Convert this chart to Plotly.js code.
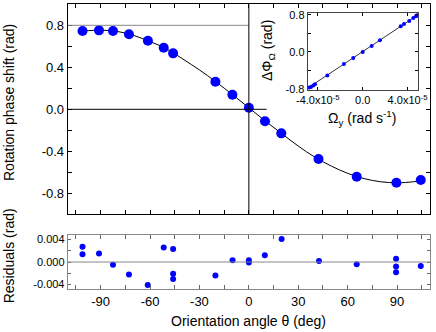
<!DOCTYPE html>
<html><head><meta charset="utf-8">
<script src="https://cdn.plot.ly/plotly-3.0.1.min.js"></script>
<style>html,body{margin:0;padding:0;background:#fff}#c{width:436px;height:332px}</style>
</head><body><div id="c"></div>
<script>
// Main panel: measured rotation phase shift vs orientation angle
const theta = [-101, -91, -82.5, -72.8, -61.3, -51.7, -46, -20.3, -10, 0, 9.8, 19.7, 42.3, 65.5, 89.6, 104.4];
const phase = [0.746, 0.752, 0.746, 0.714, 0.653, 0.587, 0.533, 0.263, 0.139, 0.015, -0.114, -0.229, -0.473, -0.642, -0.699, -0.673];
// Fit curve
const fitTheta = [-101, -90, -80, -70, -60, -50, -40, -30, -20, -10, 0, 10, 20, 30, 40, 50, 60, 70, 80, 90, 100, 105];
const fitPhase = [0.746, 0.753, 0.742, 0.704, 0.645, 0.576, 0.478, 0.375, 0.262, 0.14, 0.015, -0.112, -0.232, -0.35, -0.455, -0.54, -0.61, -0.66, -0.69, -0.70, -0.69, -0.678];
// Residuals panel
const resTheta = [-101, -101, -91, -82.5, -72.8, -61.4, -51.7, -46, -46, -46, -20.3, -9.9, 0, 0, 9.7, 19.9, 42.6, 65.5, 89.4, 89.4, 89.4, 104.4];
const resVal = [0.0027, 0.0014, 0.0015, -0.0005, -0.0022, -0.0041, 0.0026, 0.0023, -0.0021, -0.0030, -0.0024, 0.0003, 0.0003, -0.0001, 0.0012, 0.0041, 0.0002, -0.0004, 0.0006, -0.0008, -0.0018, -0.0007];
// Inset: phase shift vs rotation rate
const omega = [-4.76e-5, -4.61e-5, -4.40e-5, -4.25e-5, -3.15e-5, -1.67e-5, -0.84e-5, 0, 0.80e-5, 1.54e-5, 3.39e-5, 3.68e-5, 4.15e-5, 4.51e-5, 4.75e-5, 4.86e-5];
const dPhi = [-0.766, -0.753, -0.723, -0.695, -0.508, -0.258, -0.129, 0, 0.129, 0.252, 0.553, 0.603, 0.667, 0.732, 0.769, 0.790];
const insetFitOmega = [-4.9e-5, 4.93e-5];
const insetFitPhi = [-0.78, 0.80];
// Tick labels
const mainYTicks = [-0.8, -0.4, 0, 0.4, 0.8];
const mainYLabels = ['-0.8', '-0.4', '0.0', '0.4', '0.8'];
const resXTicks = [-90, -60, -30, 0, 30, 60, 90];
const resXLabels = ['-90', '-60', '-30', '0', '30', '60', '90'];
const resYTicks = [-0.004, 0, 0.004];
const resYLabels = ['-0.004', '0.000', '0.004'];
const insXTicks = [-4e-5, 0, 4e-5];
const insXLabels = ['-4.0x10<sup>-5</sup>', '0.0', '4.0x10<sup>-5</sup>'];
const insYTicks = [-0.8, 0, 0.8];
const insYLabels = ['-0.8', '0.0', '0.8'];

const W = 436, H = 332;
const px = v => v / W, py = v => (H - v) / H;
const FONT = '"Liberation Sans", Arial, sans-serif';

const traces = [
  {x: fitTheta, y: fitPhase, mode: 'lines', line: {color: '#000', width: 1, shape: 'spline'}, xaxis: 'x', yaxis: 'y', hoverinfo: 'skip'},
  {x: theta, y: phase, mode: 'markers', marker: {color: '#0000ff', size: 10}, xaxis: 'x', yaxis: 'y'},
  {x: resTheta, y: resVal, mode: 'markers', marker: {color: '#0000ff', size: 6}, xaxis: 'x2', yaxis: 'y2'},
  {x: insetFitOmega, y: insetFitPhi, mode: 'lines', line: {color: '#000', width: 0.8}, xaxis: 'x3', yaxis: 'y3'},
  {x: omega, y: dPhi, mode: 'markers', marker: {color: '#0000ff', size: 4}, xaxis: 'x3', yaxis: 'y3'}
];

const xDom = [px(67.7), px(430)];
const common = {showgrid: false, zeroline: false, showline: true, ticks: 'inside', mirror: 'ticks', tickcolor: '#000'};

const layout = {
  width: W, height: H, margin: {l: 0, r: 0, t: 0, b: 0},
  paper_bgcolor: '#fff', plot_bgcolor: '#fff', showlegend: false,
  font: {family: FONT, size: 13, color: '#000'},
  xaxis: Object.assign({}, common, {domain: xDom, anchor: 'y', range: [-110, 110], dtick: 15, tick0: 0, ticklen: 4, showticklabels: false, linecolor: '#000', linewidth: 1}),
  yaxis: Object.assign({}, common, {domain: [py(214.3), py(4.3)], anchor: 'x', range: [-1, 1], tickmode: 'array', tickvals: mainYTicks, ticktext: mainYLabels, ticklen: 4, linecolor: '#000', linewidth: 1, tickfont: {size: 13},
    minor: {ticks: 'inside', ticklen: 4, tickmode: 'linear', tick0: 0, dtick: 0.2, tickcolor: '#000'}}),
  xaxis2: Object.assign({}, common, {domain: xDom, anchor: 'y2', range: [-110, 110], tickmode: 'array', tickvals: resXTicks, ticktext: resXLabels, ticklen: 4, linecolor: '#888', tickcolor: '#666', tickfont: {size: 13},
    minor: {ticks: 'inside', ticklen: 4, tickmode: 'linear', tick0: 0, dtick: 15, tickcolor: '#666'}}),
  yaxis2: Object.assign({}, common, {domain: [py(289), py(235)], anchor: 'x2', range: [-0.0048, 0.0048], tickmode: 'array', tickvals: resYTicks, ticktext: resYLabels, ticklen: 3, linecolor: '#888', tickcolor: '#666', tickfont: {size: 11},
    minor: {ticks: 'inside', ticklen: 3, tickmode: 'linear', tick0: 0, dtick: 0.002, tickcolor: '#666'}}),
  xaxis3: Object.assign({}, common, {domain: [px(307.7), px(418)], anchor: 'y3', range: [-4.9e-5, 4.93e-5], tickmode: 'array', tickvals: insXTicks, ticktext: insXLabels, ticklen: 3, linecolor: '#444', tickfont: {size: 11}}),
  yaxis3: Object.assign({}, common, {domain: [py(90), py(12.5)], anchor: 'x3', range: [-0.82, 0.85], tickmode: 'array', tickvals: insYTicks, ticktext: insYLabels, ticklen: 3, linecolor: '#444', tickfont: {size: 11},
    minor: {ticks: 'inside', ticklen: 3, tickmode: 'linear', tick0: 0, dtick: 0.4, tickcolor: '#000'}}),
  shapes: [
    {type: 'line', xref: 'x', yref: 'y', x0: -110, x1: 0, y0: 0.8, y1: 0.8, line: {color: '#888', width: 1}},
    {type: 'line', xref: 'x', yref: 'y', x0: -110, x1: 10.8, y0: 0, y1: 0, line: {color: '#000', width: 1}},
    {type: 'line', xref: 'x', yref: 'y', x0: 0, x1: 0, y0: -1, y1: 1, line: {color: '#000', width: 1}},
    {type: 'line', xref: 'x2', yref: 'y2', x0: -110, x1: 110, y0: 0, y1: 0, line: {color: '#888', width: 1}}
  ],
  annotations: [
    {text: 'Rotation phase shift (rad)', xref: 'paper', yref: 'paper', x: px(9), y: py(103), textangle: -90, showarrow: false, font: {size: 14}, xanchor: 'center', yanchor: 'middle'},
    {text: 'Residuals (rad)', xref: 'paper', yref: 'paper', x: px(9.3), y: py(256), textangle: -90, showarrow: false, font: {size: 14}, xanchor: 'center', yanchor: 'middle'},
    {text: 'Orientation angle θ (deg)', xref: 'paper', yref: 'paper', x: px(249), y: py(321), showarrow: false, font: {size: 14}, xanchor: 'center', yanchor: 'middle'},
    {text: 'ΔΦ<sub>Ω</sub> (rad)', xref: 'paper', yref: 'paper', x: px(268), y: py(51), textangle: -90, showarrow: false, font: {size: 14}, xanchor: 'center', yanchor: 'middle'},
    {text: 'Ω<sub>y</sub> (rad s<sup>-1</sup>)', xref: 'paper', yref: 'paper', x: px(362), y: py(118), showarrow: false, font: {size: 14}, xanchor: 'center', yanchor: 'middle'}
  ]
};
Plotly.newPlot('c', traces, layout, {staticPlot: true, displayModeBar: false});
</script></body></html>
